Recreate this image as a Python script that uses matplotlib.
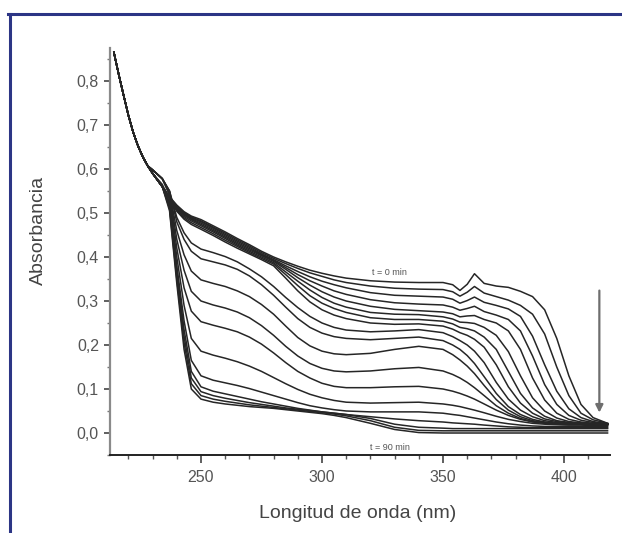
import matplotlib
matplotlib.use("Agg")
import matplotlib.pyplot as plt
from matplotlib.lines import Line2D
from matplotlib.ticker import MultipleLocator, FixedLocator, FuncFormatter

plt.rcParams['font.family'] = ['Liberation Sans', 'DejaVu Sans']

# shared short-wavelength part (nm, absorbance)
wl_head = [214, 216, 218, 220, 222, 224, 226, 228]
abs_head = [0.865, 0.815, 0.768, 0.722, 0.683, 0.652, 0.627, 0.607]

# wavelength grid for each time curve
wl = [230, 234, 237, 240, 243, 246, 250, 255, 260, 265, 270, 275, 280, 285, 290, 295, 300, 305, 310,
      320, 330, 340, 350, 354, 357, 360, 363, 367, 372, 377, 382, 387, 392, 397, 402, 407, 412, 418]

a_t00 = [0.59, 0.56, 0.537, 0.518, 0.503, 0.493, 0.485, 0.471, 0.457, 0.442, 0.428, 0.413, 0.40, 0.389, 0.379, 0.37, 0.363, 0.357, 0.352,
         0.346, 0.343, 0.342, 0.342, 0.337, 0.324, 0.338, 0.362, 0.34, 0.334, 0.331, 0.322, 0.31, 0.28, 0.215, 0.13, 0.065, 0.035, 0.022]
a_t01 = [0.59, 0.56, 0.536, 0.516, 0.501, 0.491, 0.482, 0.468, 0.454, 0.439, 0.425, 0.41, 0.397, 0.385, 0.374, 0.364, 0.356, 0.348, 0.342,
         0.334, 0.329, 0.327, 0.326, 0.321, 0.311, 0.32, 0.333, 0.318, 0.31, 0.302, 0.29, 0.27, 0.225, 0.15, 0.085, 0.045, 0.03, 0.022]
a_t02 = [0.59, 0.56, 0.535, 0.514, 0.499, 0.489, 0.48, 0.466, 0.451, 0.436, 0.422, 0.407, 0.394, 0.38, 0.367, 0.355, 0.345, 0.337, 0.33,
         0.319, 0.313, 0.311, 0.309, 0.304, 0.295, 0.301, 0.309, 0.297, 0.29, 0.282, 0.265, 0.22, 0.155, 0.095, 0.055, 0.035, 0.026, 0.021]
a_t03 = [0.59, 0.56, 0.535, 0.512, 0.497, 0.487, 0.477, 0.463, 0.448, 0.433, 0.419, 0.405, 0.392, 0.376, 0.36, 0.346, 0.334, 0.323, 0.315,
         0.303, 0.296, 0.293, 0.291, 0.286, 0.279, 0.283, 0.288, 0.276, 0.268, 0.258, 0.232, 0.175, 0.11, 0.065, 0.04, 0.029, 0.024, 0.02]
a_t04 = [0.59, 0.56, 0.535, 0.51, 0.495, 0.485, 0.474, 0.46, 0.445, 0.43, 0.416, 0.403, 0.39, 0.372, 0.353, 0.336, 0.321, 0.309, 0.30,
         0.288, 0.281, 0.278, 0.275, 0.271, 0.264, 0.266, 0.267, 0.258, 0.25, 0.232, 0.19, 0.125, 0.075, 0.045, 0.031, 0.025, 0.022, 0.02]
a_t05 = [0.59, 0.56, 0.535, 0.508, 0.492, 0.482, 0.471, 0.457, 0.442, 0.427, 0.413, 0.40, 0.387, 0.366, 0.345, 0.325, 0.308, 0.295, 0.286,
         0.274, 0.27, 0.269, 0.264, 0.259, 0.252, 0.251, 0.249, 0.24, 0.222, 0.185, 0.13, 0.08, 0.05, 0.034, 0.026, 0.023, 0.021, 0.02]
a_t06 = [0.59, 0.56, 0.535, 0.506, 0.489, 0.478, 0.467, 0.453, 0.438, 0.424, 0.41, 0.397, 0.384, 0.36, 0.335, 0.312, 0.295, 0.283, 0.274,
         0.262, 0.258, 0.258, 0.254, 0.248, 0.24, 0.237, 0.232, 0.218, 0.19, 0.14, 0.09, 0.057, 0.038, 0.028, 0.024, 0.022, 0.021, 0.02]
a_t07 = [0.59, 0.56, 0.535, 0.504, 0.486, 0.474, 0.463, 0.449, 0.434, 0.42, 0.407, 0.394, 0.38, 0.352, 0.323, 0.298, 0.28, 0.268, 0.26,
         0.25, 0.247, 0.248, 0.243, 0.236, 0.228, 0.222, 0.213, 0.195, 0.155, 0.105, 0.068, 0.045, 0.032, 0.026, 0.023, 0.021, 0.02, 0.02]
a_t08 = [0.598, 0.578, 0.55, 0.49, 0.455, 0.432, 0.418, 0.41, 0.401, 0.389, 0.373, 0.355, 0.333, 0.308, 0.285, 0.265, 0.25, 0.24, 0.234,
         0.23, 0.232, 0.235, 0.228, 0.219, 0.21, 0.20, 0.186, 0.16, 0.115, 0.077, 0.052, 0.037, 0.028, 0.024, 0.022, 0.021, 0.02, 0.02]
a_t09 = [0.598, 0.578, 0.55, 0.48, 0.44, 0.413, 0.396, 0.389, 0.382, 0.372, 0.357, 0.337, 0.313, 0.286, 0.26, 0.24, 0.227, 0.219, 0.215,
         0.212, 0.215, 0.218, 0.21, 0.20, 0.19, 0.176, 0.158, 0.128, 0.09, 0.06, 0.042, 0.031, 0.025, 0.022, 0.021, 0.02, 0.02, 0.02]
a_t10 = [0.598, 0.578, 0.548, 0.46, 0.405, 0.368, 0.348, 0.34, 0.333, 0.323, 0.31, 0.292, 0.27, 0.243, 0.217, 0.198, 0.186, 0.18, 0.178,
         0.181, 0.19, 0.197, 0.19, 0.178, 0.166, 0.152, 0.135, 0.108, 0.076, 0.052, 0.037, 0.028, 0.024, 0.022, 0.021, 0.02, 0.02, 0.02]
a_t11 = [0.598, 0.578, 0.545, 0.44, 0.37, 0.322, 0.30, 0.291, 0.284, 0.275, 0.262, 0.244, 0.222, 0.197, 0.175, 0.158, 0.147, 0.141, 0.139,
         0.141, 0.146, 0.149, 0.141, 0.133, 0.125, 0.115, 0.103, 0.085, 0.062, 0.045, 0.033, 0.026, 0.023, 0.021, 0.02, 0.02, 0.019, 0.019]
a_t12 = [0.598, 0.578, 0.54, 0.42, 0.33, 0.277, 0.253, 0.245, 0.238, 0.23, 0.218, 0.202, 0.182, 0.16, 0.14, 0.125, 0.113, 0.106, 0.103,
         0.103, 0.105, 0.106, 0.10, 0.095, 0.09, 0.084, 0.077, 0.066, 0.052, 0.04, 0.031, 0.025, 0.022, 0.02, 0.019, 0.019, 0.018, 0.018]
a_t13 = [0.59, 0.565, 0.53, 0.40, 0.29, 0.215, 0.186, 0.177, 0.17, 0.162, 0.152, 0.14, 0.126, 0.112, 0.099, 0.088, 0.08, 0.074, 0.07,
         0.068, 0.069, 0.07, 0.066, 0.063, 0.06, 0.056, 0.052, 0.046, 0.038, 0.031, 0.026, 0.022, 0.02, 0.019, 0.018, 0.018, 0.017, 0.017]
a_t14 = [0.59, 0.56, 0.525, 0.38, 0.255, 0.165, 0.13, 0.12, 0.114, 0.108, 0.101, 0.093, 0.085, 0.077, 0.069, 0.062, 0.057, 0.053, 0.05,
         0.048, 0.048, 0.048, 0.045, 0.042, 0.04, 0.037, 0.034, 0.03, 0.025, 0.021, 0.018, 0.016, 0.015, 0.015, 0.015, 0.015, 0.015, 0.015]
a_t15 = [0.59, 0.56, 0.52, 0.37, 0.235, 0.14, 0.105, 0.095, 0.089, 0.083, 0.077, 0.071, 0.066, 0.061, 0.056, 0.052, 0.048, 0.045, 0.042,
         0.037, 0.032, 0.028, 0.025, 0.023, 0.022, 0.021, 0.02, 0.018, 0.016, 0.014, 0.013, 0.012, 0.012, 0.012, 0.012, 0.012, 0.012, 0.012]
a_t16 = [0.59, 0.56, 0.515, 0.36, 0.22, 0.125, 0.094, 0.085, 0.079, 0.074, 0.069, 0.065, 0.061, 0.057, 0.054, 0.051, 0.048, 0.045, 0.042,
         0.033, 0.02, 0.013, 0.011, 0.01, 0.01, 0.01, 0.01, 0.01, 0.01, 0.01, 0.01, 0.01, 0.01, 0.01, 0.01, 0.01, 0.01, 0.01]
a_t17 = [0.59, 0.56, 0.51, 0.35, 0.205, 0.112, 0.085, 0.077, 0.072, 0.068, 0.064, 0.061, 0.058, 0.055, 0.052, 0.049, 0.046, 0.043, 0.039,
         0.028, 0.013, 0.006, 0.005, 0.005, 0.005, 0.005, 0.005, 0.005, 0.005, 0.005, 0.005, 0.005, 0.005, 0.005, 0.005, 0.005, 0.005, 0.005]
a_t18 = [0.59, 0.56, 0.505, 0.34, 0.19, 0.10, 0.077, 0.07, 0.066, 0.063, 0.06, 0.058, 0.056, 0.053, 0.05, 0.047, 0.044, 0.04, 0.035,
         0.022, 0.008, 0.001, 0.0, 0.0, 0.0, 0.0, 0.0, 0.0, 0.0, 0.0, 0.0, 0.0, 0.0, 0.0, 0.0, 0.0, 0.0, 0.0]

curves = [a_t00, a_t01, a_t02, a_t03, a_t04, a_t05, a_t06, a_t07, a_t08, a_t09,
          a_t10, a_t11, a_t12, a_t13, a_t14, a_t15, a_t16, a_t17, a_t18]

x_major = [250, 300, 350, 400]
y_major = [0.0, 0.1, 0.2, 0.3, 0.4, 0.5, 0.6, 0.7, 0.8]
label_t0 = "t = 0 min"
label_t90 = "t = 90 min"
xlabel = "Longitud de onda (nm)"
ylabel = "Absorbancia"

W, H = 622, 533
fig = plt.figure(figsize=(W / 100, H / 100), dpi=100)
fig.patch.set_facecolor('white')

# blue frame (top and left)
frame_col = '#2c3585'
fig.add_artist(Line2D([8 / W, 1.0], [1 - 14 / H, 1 - 14 / H], color=frame_col, lw=2.2,
                      transform=fig.transFigure))
fig.add_artist(Line2D([9.5 / W, 9.5 / W], [0.0, 1 - 14 / H], color=frame_col, lw=2.2,
                      transform=fig.transFigure))

ax_l, ax_r, ax_t, ax_b = 110, 610, 48, 455
ax = fig.add_axes([ax_l / W, 1 - ax_b / H, (ax_r - ax_l) / W, (ax_b - ax_t) / H])

for c in curves:
    ax.plot(wl_head + wl, abs_head + c, color='#262626', lw=1.1, solid_joinstyle='round')

ax.set_xlim(212.4, 419.0)
ax.set_ylim(-0.05, 0.875)

for s in ['top', 'right']:
    ax.spines[s].set_visible(False)
ax.spines['left'].set_color('#8a8a8a')
ax.spines['left'].set_linewidth(1.6)
ax.spines['bottom'].set_color('#222222')
ax.spines['bottom'].set_linewidth(1.4)

ax.xaxis.set_major_locator(FixedLocator(x_major))
ax.xaxis.set_minor_locator(MultipleLocator(10))
ax.yaxis.set_major_locator(FixedLocator(y_major))
ax.yaxis.set_minor_locator(MultipleLocator(0.05))
ax.yaxis.set_major_formatter(FuncFormatter(lambda v, p: f"{v:.1f}".replace('.', ',')))

ax.tick_params(axis='x', which='major', direction='out', length=6, width=1.2, color='#444444',
               labelsize=11.5, labelcolor='#555555', pad=5)
ax.tick_params(axis='x', which='minor', direction='out', length=3, width=1.0, color='#555555')
ax.tick_params(axis='y', which='major', direction='out', length=4, width=1.2, color='#444444',
               labelsize=11.5, labelcolor='#555555', pad=4)
ax.tick_params(axis='y', which='minor', direction='out', length=2.5, width=1.0, color='#777777')

fig.text(358 / W, 1 - 513 / H, xlabel, ha='center', va='center', fontsize=14, color='#444444')
fig.text(38 / W, 1 - 230 / H, ylabel, ha='center', va='center', rotation=90, fontsize=14,
         color='#444444')

ax.text(328, 0.364, label_t0, ha='center', va='center', fontsize=6.5, color='#555555')
ax.text(328, -0.034, label_t90, ha='center', va='center', fontsize=6.5, color='#555555')

ax.annotate('', xy=(414.6, 0.04), xytext=(414.6, 0.33),
            arrowprops=dict(arrowstyle='-|>', color='#6e6e6e', lw=1.6, mutation_scale=11))

fig.savefig('out.png', dpi=100, facecolor='white')
